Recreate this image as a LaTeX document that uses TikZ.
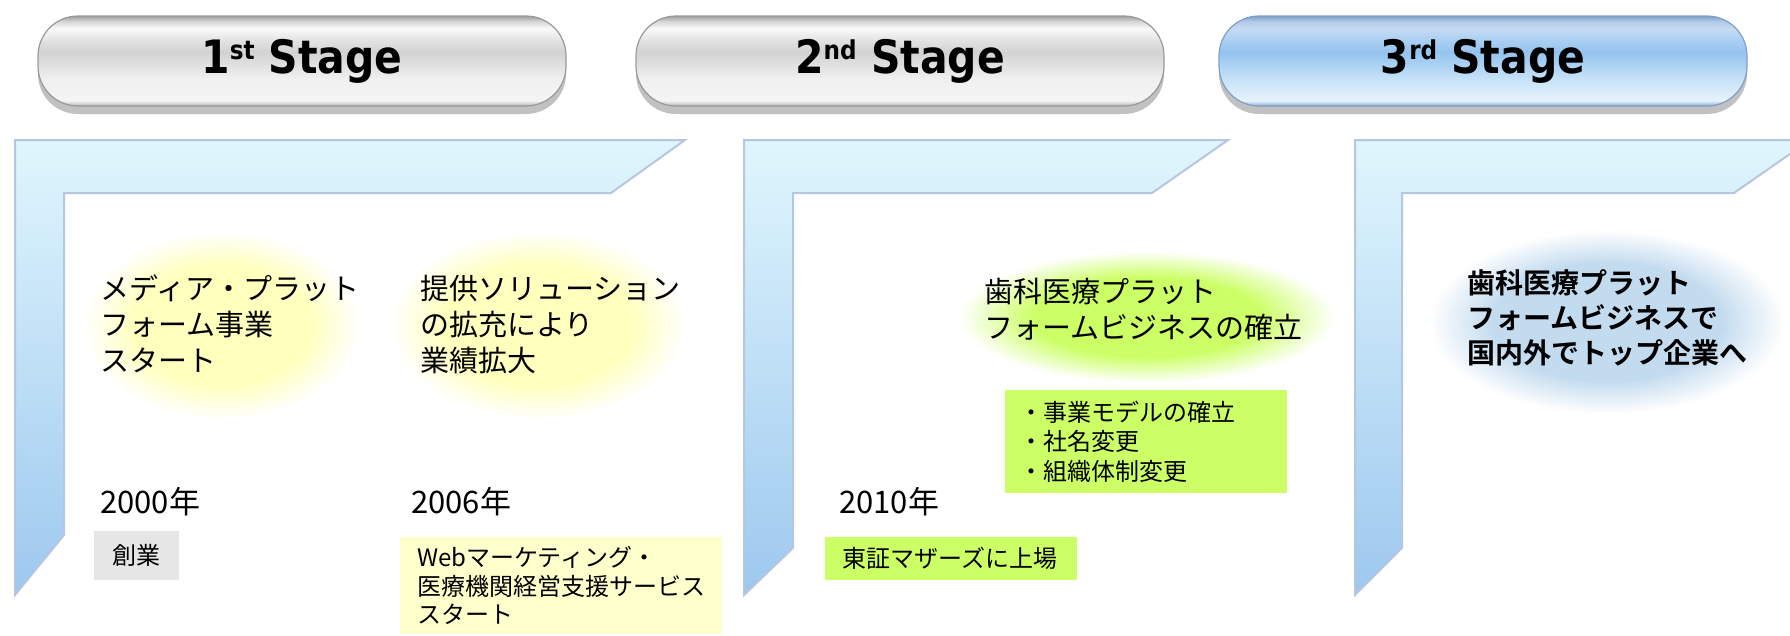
\documentclass[tikz,border=0pt]{standalone}
\usepackage{fontspec}
\usepackage{graphicx}
\newfontfamily\jpfont{Noto Sans CJK JP}[BoldFont={Noto Sans CJK JP Bold}]
\newfontfamily\stagefont{DejaVu Sans}
\usetikzlibrary{shadows}

\definecolor{lborder}{HTML}{B7C6E0}
\definecolor{ltop}{HTML}{E0F6FD}
\definecolor{lbottom}{HTML}{9DC8EF}
\definecolor{boxgray}{HTML}{E6E6E6}
\definecolor{boxyellow}{HTML}{FFFFCC}
\definecolor{boxgreen}{HTML}{CCFF66}
\definecolor{gY}{HTML}{FFFFBE}
\definecolor{gG}{HTML}{CCFF66}
\definecolor{gB}{HTML}{C3DBEF}

\definecolor{pgA}{HTML}{B4B4B4}
\definecolor{pgB}{HTML}{F4F4F4}
\definecolor{pgC}{HTML}{F0F0F0}
\definecolor{pgD}{HTML}{D2D2D2}
\definecolor{pgE}{HTML}{E4E4E4}
\definecolor{pgF}{HTML}{FAFAFA}
\definecolor{pgG}{HTML}{D6D6D6}
\definecolor{pgH}{HTML}{9E9E9E}

\definecolor{pbA}{HTML}{8FAED0}
\definecolor{pbB}{HTML}{E6F3FC}
\definecolor{pbC}{HTML}{C6E2F8}
\definecolor{pbD}{HTML}{94C3EF}
\definecolor{pbE}{HTML}{ACD0F2}
\definecolor{pbF}{HTML}{C6DBF3}
\definecolor{pbG}{HTML}{B2CAE9}
\definecolor{pbH}{HTML}{7F9FC6}

\pgfdeclareverticalshading{pillgray}{100bp}{color(0bp)=(pgA); color(25bp)=(pgA); color(28bp)=(pgB); color(40bp)=(pgC); color(55bp)=(pgD); color(62bp)=(pgE); color(68bp)=(pgF); color(72bp)=(pgG); color(75bp)=(pgH); color(100bp)=(pgH)}
\pgfdeclareverticalshading{pillblue}{100bp}{color(0bp)=(pbA); color(25bp)=(pbA); color(28bp)=(pbB); color(40bp)=(pbC); color(55bp)=(pbD); color(62bp)=(pbE); color(68bp)=(pbF); color(72bp)=(pbG); color(75bp)=(pbH); color(100bp)=(pbH)}
\pgfdeclareradialshading{glowyellow}{\pgfpoint{0bp}{0bp}}{color(0bp)=(gY); color(16bp)=(gY); color(25bp)=(white); color(50bp)=(white)}
\pgfdeclareradialshading{glowgreen}{\pgfpoint{0bp}{0bp}}{color(0bp)=(gG); color(15bp)=(gG); color(25bp)=(white); color(50bp)=(white)}
\pgfdeclareradialshading{glowblue}{\pgfpoint{0bp}{0bp}}{color(0bp)=(gB); color(16bp)=(gB); color(25bp)=(white); color(50bp)=(white)}

\newcommand\stagelabel[2]{\scalebox{0.89}[1]{#1\raisebox{14pt}{\fontsize{26}{26}\selectfont #2} Stage}}

\tikzset{
  pill/.style={draw=gray!80, line width=1.2pt, rounded corners=40pt,
    minimum width=528pt, minimum height=90pt, shading=pillgray,
    drop shadow={shadow xshift=0pt, shadow yshift=-8pt, opacity=.35, fill=black!70},
    font=\stagefont\bfseries\fontsize{46}{46}\selectfont},
  pillb/.style={pill, draw=pbH, shading=pillblue},
  lframe/.style={draw=lborder, line width=2pt, top color=ltop, bottom color=lbottom},
  glowtext/.style={anchor=north west, inner sep=0pt, align=left,
    font=\jpfont\fontsize{29}{36}\selectfont},
  year/.style={anchor=west, inner sep=0pt, font=\jpfont\fontsize{31}{31}\selectfont},
  infobox/.style={anchor=north west, inner ysep=0pt, align=left,
    font=\jpfont\fontsize{24}{29}\selectfont}
}

\begin{document}
\begin{tikzpicture}[x=1pt, y=-1pt]
  \useasboundingbox (0,0) rectangle (1790,635);

  \node[pill] (stageA) at (302,61) {\stagelabel{1}{st}};
  \node[pill] (stageB) at (900,61) {\stagelabel{2}{nd}};
  \node[pillb] (stageC) at (1483,61) {\stagelabel{3}{rd}};

  \draw[lframe] (15,140) -- (685,140) -- (611,193) -- (64,193) -- (64,535) -- (15,595) -- cycle;
  \draw[lframe] (744,140) -- (1228,140) -- (1152,193) -- (793,193) -- (793,548) -- (744,595) -- cycle;
  \draw[lframe] (1355,140) -- (1810,140) -- (1734,193) -- (1402,193) -- (1402,548) -- (1355,595) -- cycle;

  \path[shading=glowyellow] (222,325) ellipse [x radius=138, y radius=94];
  \path[shading=glowyellow] (538,325) ellipse [x radius=148, y radius=94];
  \path[shading=glowgreen] (1147,317) ellipse [x radius=188, y radius=66];
  \path[shading=glowblue] (1607,322) ellipse [x radius=178, y radius=92];

  \node[glowtext] (startA) at (100,275) {メディア・プラット\\フォーム事業\\スタート};
  \node[glowtext] (startB) at (420,275) {提供ソリューション\\の拡充により\\業績拡大};
  \node[glowtext] (goalB) at (984,278) {歯科医療プラット\\フォームビジネスの確立};
  \node[glowtext, font=\jpfont\bfseries\fontsize{28}{35}\selectfont] (goalC) at (1467,269) {歯科医療プラット\\フォームビジネスで\\国内外でトップ企業へ};

  \node[year] (yearA) at (100,502) {2000年};
  \node[year] (yearB) at (411,502) {2006年};
  \node[year] (yearC) at (839,502) {2010年};

  \node[infobox, fill=boxgray, inner xsep=0pt, text width=85pt, align=center, minimum height=49pt] (eventA) at (94,531) {創業};
  \node[infobox, fill=boxyellow, inner xsep=17pt, text width=288pt, minimum height=97pt, font=\jpfont\fontsize{24}{28.5}\selectfont] (eventB) at (400,537) {Webマーケティング・\\医療機関経営支援サービス\\スタート};
  \node[infobox, fill=boxgreen, inner xsep=17pt, text width=218pt, minimum height=43pt] (eventC) at (825,537) {東証マザーズに上場};
  \node[infobox, fill=boxgreen, inner xsep=14pt, text width=254pt, minimum height=103pt, font=\jpfont\fontsize{24}{29.5}\selectfont] (eventD) at (1005,390) {・事業モデルの確立\\・社名変更\\・組織体制変更};
\end{tikzpicture}
\end{document}
